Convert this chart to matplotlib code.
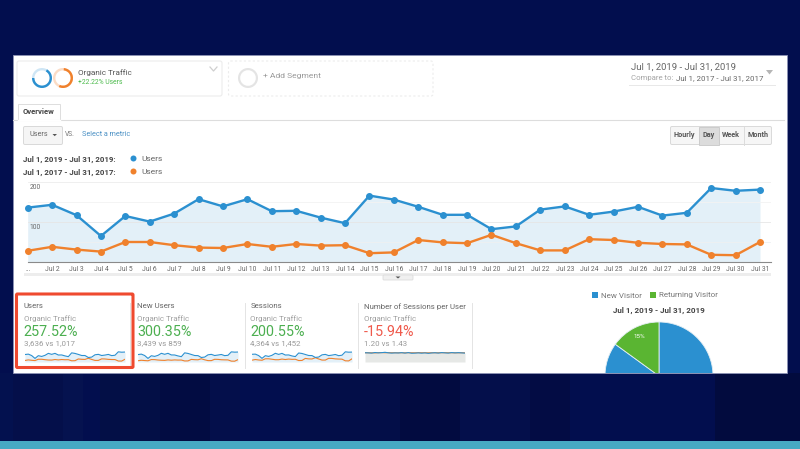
import matplotlib
matplotlib.use("Agg")
import matplotlib.pyplot as plt
from matplotlib.patches import Rectangle, FancyBboxPatch, Wedge, Circle, Polygon

plt.rcParams['font.family'] = ['Roboto', 'DejaVu Sans']

W, H = 800, 449

days = list(range(1, 32))
day_labels = ["..."] + [f"Jul {d}" for d in days[1:]]
users_2019 = [136, 143, 117, 65, 115, 101, 121, 157, 139, 157, 127, 128, 111, 97, 166, 156,
              138, 118, 118, 82, 89, 131, 139, 118, 126, 138, 116, 123, 185, 178, 181]
users_2017 = [28, 38, 31, 26, 50, 50, 42, 36, 35, 45, 38, 45, 41, 42, 22, 24,
              55, 49, 47, 68, 47, 29, 29, 57, 55, 48, 45, 44, 18, 17, 50]
new_2019 = [128, 136, 112, 62, 108, 97, 115, 150, 133, 150, 122, 121, 105, 92, 158, 148,
            130, 112, 110, 78, 85, 124, 132, 112, 120, 130, 110, 116, 175, 170, 172]
new_2017 = [22, 30, 25, 21, 42, 41, 34, 30, 28, 36, 31, 36, 33, 34, 18, 19,
            45, 40, 38, 56, 38, 24, 24, 47, 45, 39, 37, 36, 15, 14, 41]
sessions_2019 = [168, 172, 140, 80, 138, 122, 146, 190, 166, 188, 152, 154, 132, 118, 196, 186,
                 164, 142, 140, 100, 108, 156, 166, 140, 150, 164, 138, 148, 222, 214, 216]
sessions_2017 = [40, 54, 44, 38, 70, 70, 60, 50, 50, 64, 54, 64, 58, 60, 32, 34,
                 78, 68, 66, 94, 66, 42, 42, 80, 78, 68, 64, 62, 26, 24, 70]
per_user_2019 = [1.22, 1.20, 1.17, 1.25, 1.20, 1.23, 1.28, 1.21, 1.17, 1.20, 1.19, 1.23, 1.17, 1.24,
                 1.15, 1.17, 1.20, 1.16, 1.20, 1.14, 1.19, 1.22, 1.17, 1.24, 1.20, 1.17, 1.24, 1.20,
                 1.23, 1.20, 1.17]
per_user_2017 = [1.21, 1.22, 1.21, 1.20, 1.23, 1.24, 1.22, 1.23, 1.22, 1.22, 1.21, 1.22, 1.21, 1.22,
                 1.22, 1.21, 1.23, 1.22, 1.22, 1.21, 1.22, 1.21, 1.22, 1.22, 1.23, 1.22, 1.22, 1.21,
                 1.21, 1.22, 1.21]
visitor_labels = ["New Visitor", "Returning Visitor"]
visitor_share = [85, 15]

metric_names = ["Users", "New Users", "Sessions", "Number of Sessions per User"]
metric_pcts = ["257.52%", "300.35%", "200.55%", "-15.94%"]
metric_counts = ["3,636 vs 1,017", "3,439 vs 859", "4,364 vs 1,452", "1.20 vs 1.43"]

BLUE = "#2b90d0"
ORANGE = "#f0812c"
GREY = "#757575"
DARK = "#444444"
GREEN = "#4caf50"
RED = "#ef5a4c"


def px_axes(fig, x0, y0, x1, y1):
    # axes box given in image pixels, y going down
    return fig.add_axes([x0 / W, 1 - y1 / H, (x1 - x0) / W, (y1 - y0) / H])


def sparkline(fig, x0, blue, orange, ymax, fill="#e3f0f8", ymin=0):
    ax = px_axes(fig, x0, 351, x0 + 100, 362)
    ax.fill_between(days, blue, ymin, color=fill, lw=0)
    ax.plot(days, orange, color=ORANGE, lw=0.8)
    ax.plot(days, blue, color=BLUE, lw=0.8)
    ax.set_xlim(1, 31)
    ax.set_ylim(ymin, ymax)
    ax.axis("off")
    return ax


fig = plt.figure(figsize=(W / 100, H / 100), dpi=100, facecolor="#020e4e")

bg = fig.add_axes([0, 0, 1, 1])
bg.set_xlim(0, W)
bg.set_ylim(H, 0)
bg.axis("off")

# background stripes and bottom strip
for x, w, c in [(0, 13, "#03114f"), (13, 50, "#040f4a"), (63, 20, "#05124f"), (100, 60, "#030f46"),
                (160, 50, "#020c42"), (210, 30, "#040f4b"), (300, 100, "#030e48"), (400, 60, "#020b40"),
                (460, 70, "#040f4b"), (530, 40, "#030c44"), (715, 85, "#020b3e")]:
    bg.add_patch(Rectangle((x, 373), w, 68, color=c, lw=0))
bg.add_patch(Rectangle((0, 441), W, 8, color="#46a9c3", lw=0))

# white panel
bg.add_patch(Rectangle((13, 55), 774, 318, facecolor="white", edgecolor="#8d93b5", lw=0.6))

# segment boxes
bg.add_patch(FancyBboxPatch((17, 61), 205, 35, boxstyle="round,pad=0,rounding_size=2",
                            facecolor="white", edgecolor="#ececec", lw=0.8))
bg.add_patch(FancyBboxPatch((228.5, 61), 204.5, 35, boxstyle="round,pad=0,rounding_size=2",
                            facecolor="white", edgecolor="#ececec", lw=0.8, ls=(0, (2, 2))))
bg.add_patch(Wedge((42, 78), 10, 0, 360, width=2.4, color="#cfe6f5", lw=0))
bg.add_patch(Wedge((42, 78), 10, -60, 180, width=2.4, color=BLUE, lw=0))
bg.add_patch(Wedge((63, 78), 10, 0, 360, width=2.4, color="#fbdcc6", lw=0))
bg.add_patch(Wedge((63, 78), 10, -85, 115, width=2.4, color=ORANGE, lw=0))
bg.add_patch(Wedge((248, 78), 10, 0, 360, width=2.2, color="#e4e4e4", lw=0))
bg.plot([210, 213.5, 217], [67, 71, 67], color="#cfcfcf", lw=0.9)
bg.text(78, 73, "Organic Traffic", fontsize=5.9, color="#555555", va="center")
bg.text(78, 82.5, "+22.22% Users", fontsize=4.9, color="#4dbb4d", va="center")
bg.text(263, 76, "+ Add Segment", fontsize=6.1, color="#9a9a9a", va="center")

# date range
bg.text(631, 67, "Jul 1, 2019 - Jul 31, 2019", fontsize=6.8, color="#666666", va="center")
bg.text(631, 78, "Compare to:", fontsize=5.6, color="#a5a5a5", va="center")
bg.text(675.5, 78, "Jul 1, 2017 - Jul 31, 2017", fontsize=5.7, color="#666666", va="center")
bg.plot([629, 775], [84.5, 84.5], color="#e8e8e8", lw=0.7)
bg.add_patch(Polygon([[766, 70], [773, 70], [769.5, 74.5]], color="#b5b5b5", lw=0))

# tab row
bg.plot([13, 784], [119.5, 119.5], color="#dddddd", lw=0.8)
bg.add_patch(Rectangle((17.5, 103.5), 42.5, 16.5, facecolor="white", edgecolor="#dddddd", lw=0.7))
bg.plot([18, 60], [120, 120], color="white", lw=1)
bg.text(38.5, 111.5, "Overview", fontsize=5.6, fontweight="bold", color="#444444", ha="center", va="center")

# metric selector
bg.add_patch(FancyBboxPatch((23.5, 126.5), 39, 18, boxstyle="round,pad=0,rounding_size=1.5",
                            facecolor="#f5f5f5", edgecolor="#d9d9d9", lw=0.7))
bg.text(30, 135, "Users", fontsize=5.2, color="#666666", va="center")
bg.add_patch(Polygon([[52.5, 134], [57, 134], [54.7, 136.2]], color="#555555", lw=0))
bg.text(65, 135, "VS.", fontsize=4.8, color="#777777", va="center")
bg.text(82, 135, "Select a metric", fontsize=5.2, color="#4a90c4", va="center")

# Hourly / Day / Week / Month buttons
bg.add_patch(FancyBboxPatch((670.5, 126.5), 101, 18, boxstyle="round,pad=0,rounding_size=1.5",
                            facecolor="#f6f6f6", edgecolor="#d9d9d9", lw=0.7))
bg.add_patch(Rectangle((698.5, 126.5), 20, 18, facecolor="#dcdcdc", edgecolor="#cccccc", lw=0.7))
bg.plot([743.5, 743.5], [126.5, 144.5], color="#dcdcdc", lw=0.7)
for x, s in [(684.5, "Hourly"), (708.5, "Day"), (731, "Week"), (757.5, "Month")]:
    bg.text(x, 135.3, s, fontsize=5.2, fontweight="bold", color="#555555", ha="center", va="center")

# legend rows
bg.text(23, 159, "Jul 1, 2019 - Jul 31, 2019:", fontsize=5.7, fontweight="bold", color=DARK, va="center")
bg.text(23, 172, "Jul 1, 2017 - Jul 31, 2017:", fontsize=5.7, fontweight="bold", color=DARK, va="center")
bg.add_patch(Circle((133.5, 158.5), 3, color=BLUE, lw=0))
bg.add_patch(Circle((133.5, 171.5), 3, color=ORANGE, lw=0))
bg.text(141, 159, "Users", fontsize=6, color="#666666", va="center")
bg.text(141, 172, "Users", fontsize=6, color="#666666", va="center")

# main chart
ax = px_axes(fig, 27.7, 182, 771, 262)
ax.patch.set_alpha(0)
ax.fill_between(days, users_2019, 0, color="#e3f0f8", lw=0, zorder=1)
for y, c in [(200, "#ececec"), (150, "#f3f3f3"), (100, "#e6e6e6"), (50, "#eef0f2")]:
    ax.axhline(y, color=c, lw=0.6, zorder=1.5)
ax.plot(days, users_2019, color=BLUE, lw=1.7, marker="o", ms=4, zorder=3, clip_on=False)
ax.plot(days, users_2017, color=ORANGE, lw=1.7, marker="o", ms=4, zorder=4, clip_on=False)
ax.set_xlim(1, 31.45)
ax.set_ylim(0, 200)
ax.set_xticks(days)
ax.set_xticklabels(day_labels, fontsize=4.9, color="#666666")
ax.tick_params(axis="x", length=0, pad=3)
ax.set_yticks([])
for side in ("top", "left", "right"):
    ax.spines[side].set_visible(False)
ax.spines["bottom"].set_color("#8a8a8a")
ax.spines["bottom"].set_linewidth(0.8)
# y labels sit just under their grid lines
for y in [200, 100]:
    ax.annotate(str(y), (1, y), xytext=(1.5, -4), textcoords="offset points", fontsize=4.9,
                color="#666666", va="center", zorder=2)

# band under chart with handle
bg.add_patch(Rectangle((24, 273), 747, 2.5, color="#ededed", lw=0))
bg.add_patch(FancyBboxPatch((383, 275), 30, 5, boxstyle="round,pad=0,rounding_size=1",
                            facecolor="#f0f0f0", edgecolor="#dcdcdc", lw=0.6))
bg.add_patch(Polygon([[395.5, 276.5], [400.5, 276.5], [398, 278.5]], color="#555555", lw=0))

# metric cards
card_x = [23.5, 137, 250.5, 364]
for name, pct, count, x in zip(metric_names, metric_pcts, metric_counts, card_x):
    bg.text(x, 306.5, name, fontsize=5.7, color="#666666", va="center")
    bg.text(x, 318.5, "Organic Traffic", fontsize=5.7, color="#a0a0a0", va="center")
    bg.text(x, 331.5, pct, fontsize=10.4, color=RED if pct.startswith("-") else GREEN, va="center")
    bg.text(x, 343.5, count, fontsize=5.7, color="#999999", va="center")
for x in [129.5, 244.5, 357.5, 471.5]:
    bg.plot([x, x], [303, 368], color="#e4e4e4", lw=0.7)

sparkline(fig, 25, users_2019, users_2017, 200)
sparkline(fig, 138, new_2019, new_2017, 190)
sparkline(fig, 252, sessions_2019, sessions_2017, 240)
sparkline(fig, 365, per_user_2019, per_user_2017, 1.45, fill="#e6e8e6")

# highlight box
bg.add_patch(FancyBboxPatch((16.5, 294), 116.5, 73.5, boxstyle="round,pad=0,rounding_size=1",
                            facecolor="none", edgecolor="#ef4a2f", lw=2.2, zorder=6))

# pie legend
bg.add_patch(Rectangle((592, 292), 6, 6, color=BLUE, lw=0))
bg.add_patch(Rectangle((650, 292), 6, 6, color="#5ab532", lw=0))
bg.text(601, 295.5, visitor_labels[0], fontsize=5.8, color="#777777", va="center")
bg.text(659, 295.5, visitor_labels[1], fontsize=5.8, color="#777777", va="center")
bg.text(659, 310, "Jul 1, 2019 - Jul 31, 2019", fontsize=5.8, fontweight="bold", color=DARK,
        ha="center", va="center")

# pie, cut off by the panel edge
pie_ax = px_axes(fig, 599, 318, 719, 373)
wedges, _, _ = pie_ax.pie(visitor_share, colors=[BLUE, "#5ab532"], startangle=90, counterclock=False,
                          radius=54, wedgeprops={"edgecolor": "#e4eef4", "linewidth": 0.6},
                          autopct=lambda p: "15%" if p < 50 else "", pctdistance=0.82,
                          textprops={"fontsize": 4.5, "color": "white"})
for w in wedges:
    w.set_clip_on(True)
pie_ax.set_xlim(-60, 60)
pie_ax.set_ylim(3, 58)

fig.savefig("out.png", dpi=100)
